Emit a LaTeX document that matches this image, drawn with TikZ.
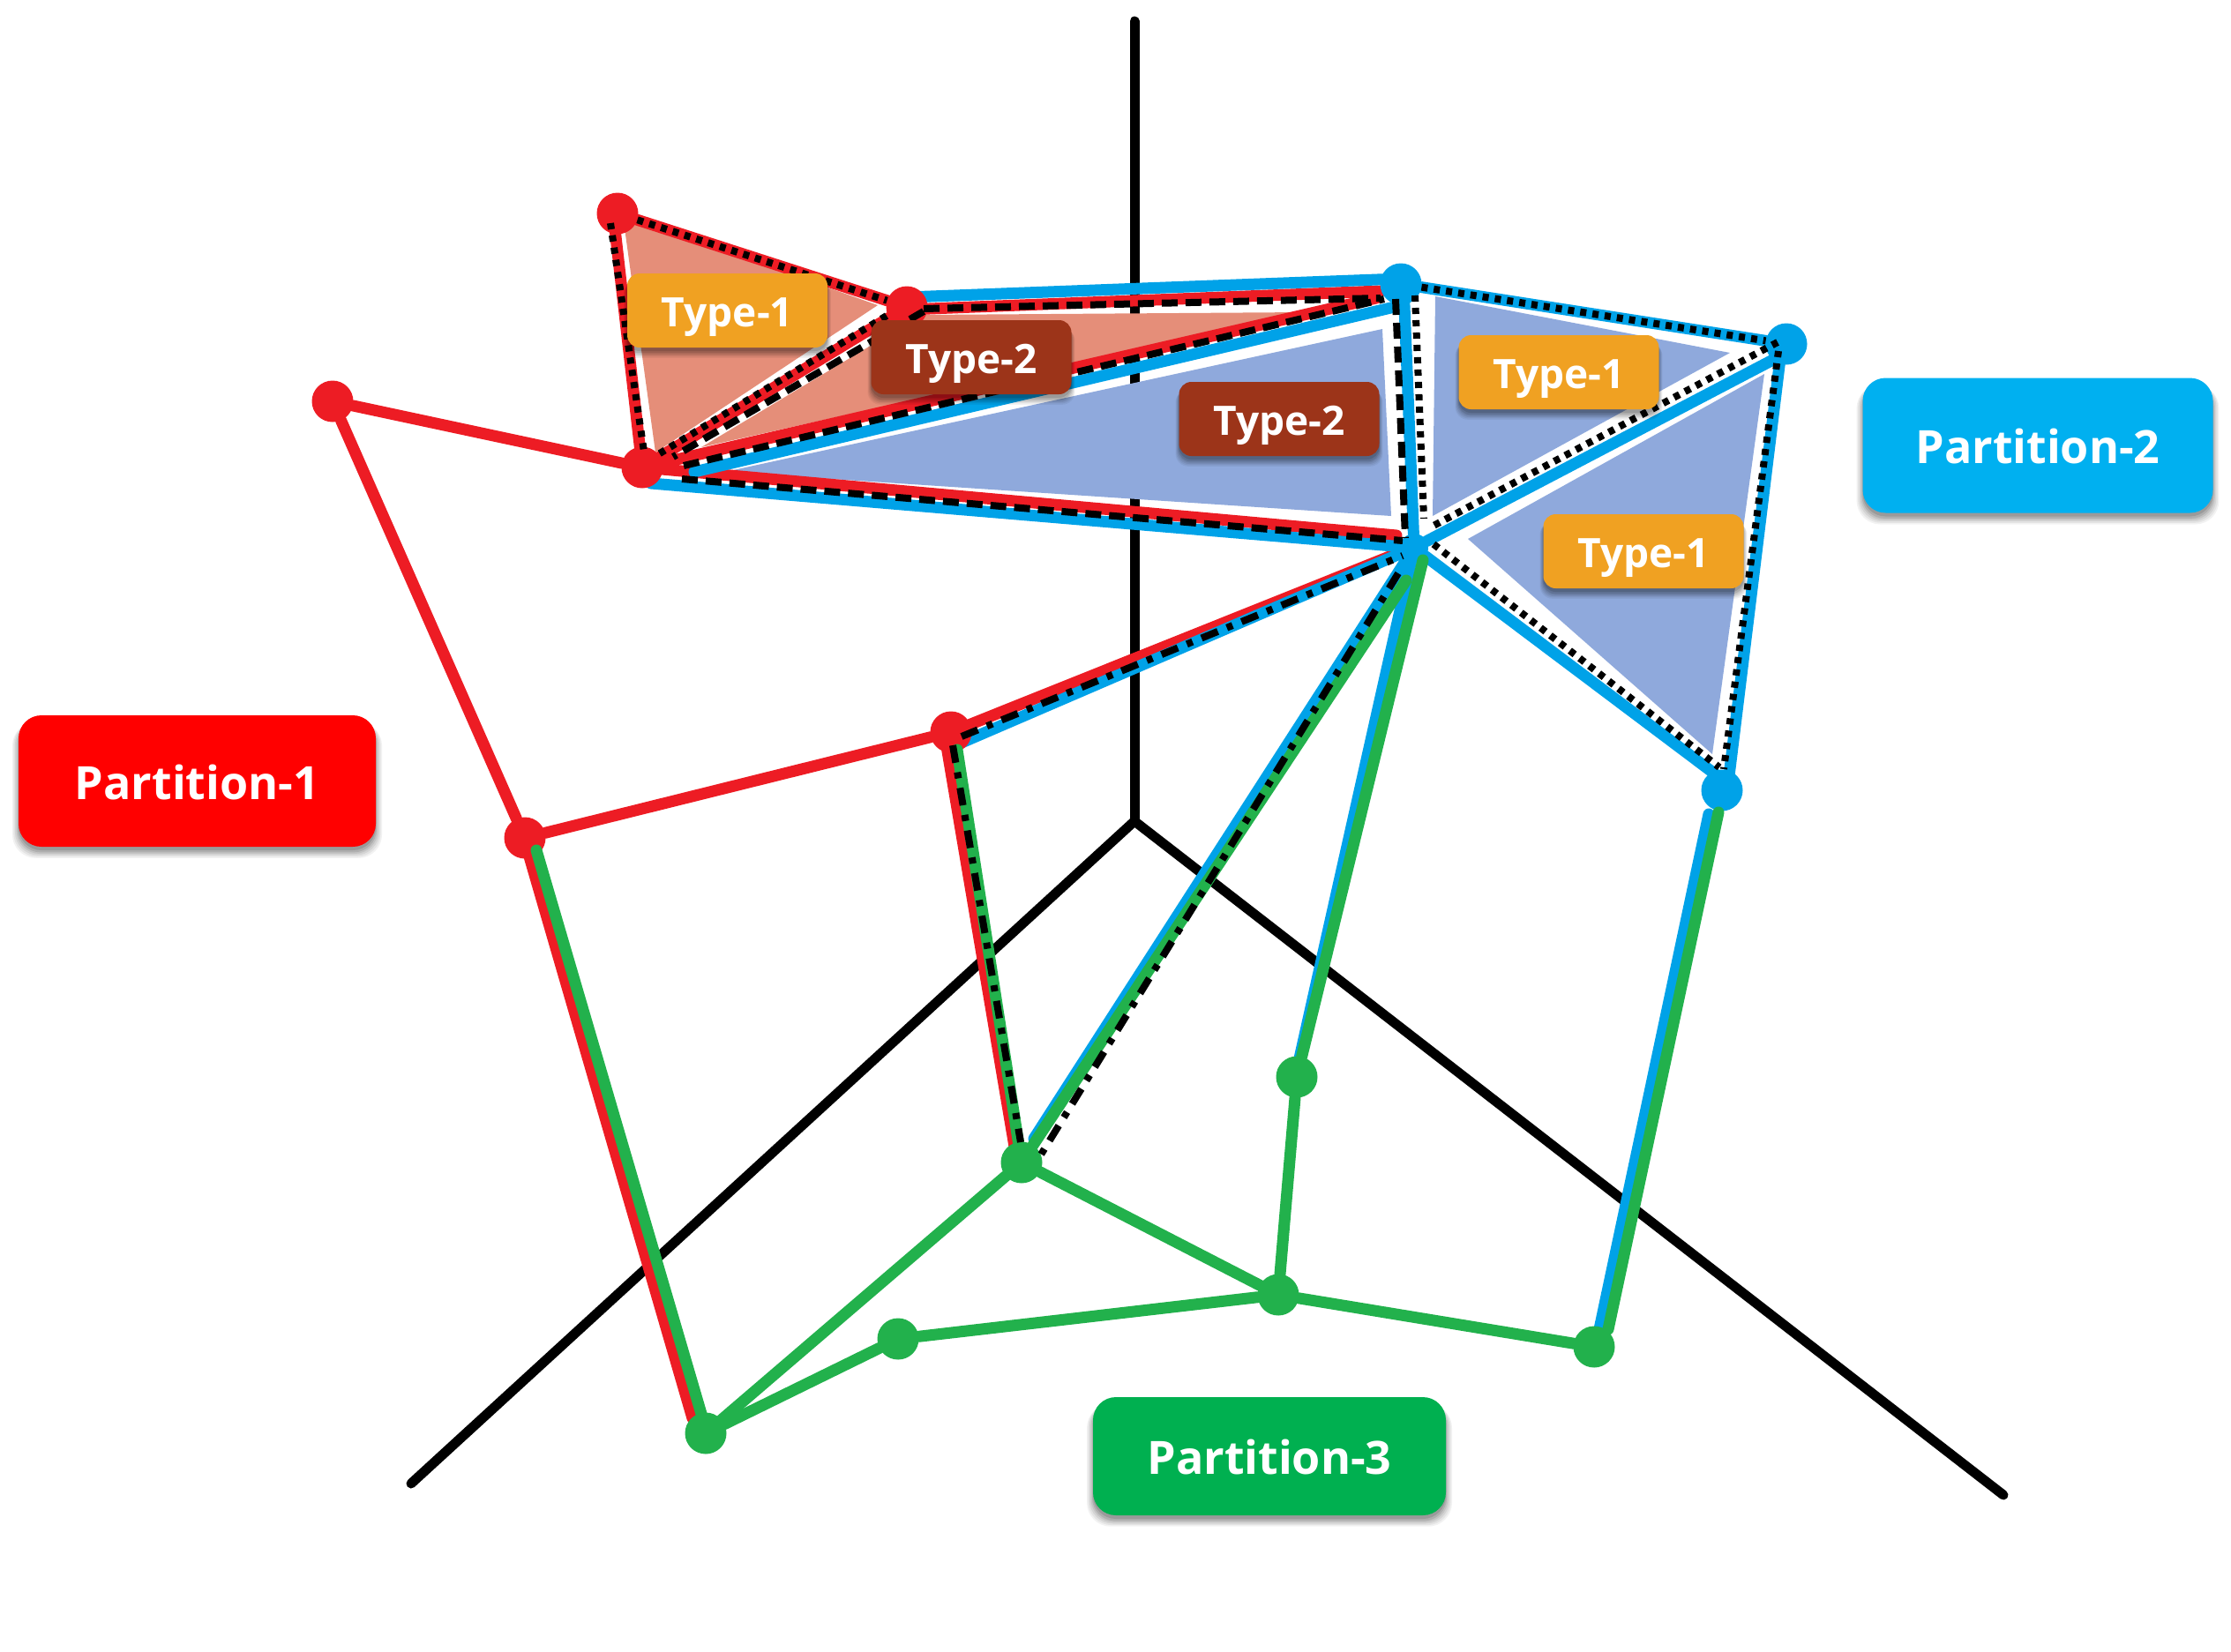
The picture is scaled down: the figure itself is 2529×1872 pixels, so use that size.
\documentclass[tikz,border=0pt]{standalone}
\usepackage{fontspec}
\setmainfont{Open Sans}
\usetikzlibrary{calc,shadows}
\definecolor{redpen}{HTML}{ED1C24}
\definecolor{bluepen}{HTML}{00A2E8}
\definecolor{greenpen}{HTML}{22B14C}
\definecolor{salmonfill}{HTML}{E58E79}
\definecolor{bluefill}{HTML}{8FA9DC}
\definecolor{typeone}{HTML}{F0A122}
\definecolor{typetwo}{HTML}{9C3419}
\definecolor{parttwo}{HTML}{00B0F0}
\definecolor{partthree}{HTML}{00B050}
\pgfdeclarelayer{under}
\pgfsetlayers{under,main}
\tikzset{
  softshadow/.style={
    general shadow={shadow yshift=-10pt,shadow scale=1.035,fill=black,opacity=.05},
    general shadow={shadow yshift=-9pt,shadow scale=1.028,fill=black,opacity=.06},
    general shadow={shadow yshift=-8pt,shadow scale=1.02,fill=black,opacity=.07},
    general shadow={shadow yshift=-7pt,shadow scale=1.012,fill=black,opacity=.08},
    general shadow={shadow yshift=-6pt,shadow scale=1.005,fill=black,opacity=.10},
    general shadow={shadow yshift=-4pt,fill=black,opacity=.12}},
  partbox/.style={rounded corners=26pt,text=white,font=\fontsize{52}{64}\selectfont\bfseries,
    inner sep=0pt,text height=41pt,text depth=0pt,softshadow},
  typebox/.style={rounded corners=14pt,text=white,font=\fontsize{46}{56}\selectfont\bfseries,
    minimum width=227pt,minimum height=84pt,inner sep=0pt,text height=36pt,text depth=0pt,softshadow},
  dot/.style={circle,inner sep=0pt,minimum size=47pt},
  pen/.style={line width=13pt,line cap=round},
  dottedpen/.style={black,line width=8pt,dash pattern=on 7pt off 7pt},
  dashedpen/.style={black,line width=8pt,dash pattern=on 18pt off 9pt},
  dotdashpen/.style={black,line width=8pt,dash pattern=on 20pt off 11pt on 7pt off 11pt}
}
\begin{document}
\begin{tikzpicture}[x=1pt, y=-1pt]
    \useasboundingbox (0,0) rectangle (2529,1872);
    % Vertices
    \foreach \n/\x/\y in {r1/700/242, r2/1028/348, r3/728/530, r4/377/455, r5/595/950, r6/1078/830}
        \node[dot,fill=redpen] (\n) at (\x,\y) {};
    \foreach \n/\x/\y in {b1/1588/322, b2/2025/390, b4/1952/896}
        \node[dot,fill=bluepen] (\n) at (\x,\y) {};
    \node[dot,fill=bluepen,minimum size=32pt] (b3) at (1603,621) {};
    \foreach \n/\x/\y in {g1/1158/1318, g2/1470/1221, g3/1449/1468, g4/1807/1527, g5/1018/1518, g6/800/1625}
        \node[dot,fill=greenpen] (\n) at (\x,\y) {};
    \begin{pgfonlayer}{under}
    % Axes
    \coordinate (origin) at (1286,931);
    \coordinate (axisup) at (1286,24);
    \coordinate (axisleft) at (466,1682);
    \coordinate (axisright) at (2271,1695);
    \draw[line width=11pt,line cap=round] (axisup) -- (origin);
    \draw[line width=11pt,line cap=round] (axisleft) -- (origin) -- (axisright);
    % Triangles
    \fill[salmonfill] (706,244) -- (995,346) -- (743,513) -- cycle;
    \fill[salmonfill] (795,507) -- (1045,357) -- (1480,354) -- cycle;
    \fill[bluefill] (822,535) -- (1567,373) -- (1577,585) -- cycle;
    \fill[bluefill] (1627,336) -- (1961,400) -- (1624,585) -- cycle;
    \fill[bluefill] (2000,424) -- (1664,611) -- (1941,855) -- cycle;
    % Red edges
    \foreach \a/\b in {r4/r3, r4/r5, r5/r6, r1/r2, r2/r3}
        \draw[pen,redpen] (\a) -- (\b);
    \draw[pen,redpen] ($(r1)+(-5,0)$) -- (r3);
    \draw[pen,redpen] ($(r2)+(0,3)$) -- ($(b1)+(-23,8)$);
    \draw[pen,redpen] (r3) -- ($(b1)+(-28,16)$);
    \draw[pen,redpen] (r3) -- ($(b3)+(-20,-14)$);
    \draw[pen,redpen] (r6) -- ($(b3)+(-18,6)$);
    \draw[pen,redpen] ($(r6)+(-6,10)$) -- ($(g1)+(-8,-18)$);
    \draw[pen,redpen] ($(r5)+(5,21)$) -- ($(g6)+(-15,-17)$);
    % Blue edges
    \draw[pen,bluepen] ($(r2)+(0,-11)$) -- ($(b1)+(0,-6)$);
    \draw[pen,bluepen] ($(r3)+(59,5)$) -- ($(b1)+(-3,25)$);
    \draw[pen,bluepen] ($(r3)+(10,18)$) -- (b3);
    \draw[pen,bluepen] ($(r6)+(12,12)$) -- (b3);
    \draw[pen,bluepen] ($(b1)+(3,0)$) -- (b3);
    \draw[pen,bluepen] (b1) -- (b2);
    \draw[pen,bluepen] (b3) -- ($(b2)+(0,10)$);
    \draw[pen,bluepen] (b3) -- ($(b4)+(-2,-14)$);
    \draw[pen,bluepen] ($(b2)+(-5,0)$) -- ($(b4)+(6,0)$);
    \draw[pen,bluepen] (b3) -- ($(g1)+(14,-27)$);
    \draw[pen,bluepen] (b3) -- ($(g2)+(3,-21)$);
    \draw[pen,bluepen] ($(b4)+(-15,27)$) -- ($(g4)+(6,-20)$);
    % Green edges
    \foreach \a/\b in {g6/g1, g6/g5, g5/g3, g1/g3, g2/g3, g3/g4}
        \draw[pen,greenpen] (\a) -- (\b);
    \end{pgfonlayer}
    \draw[pen,greenpen] ($(b3)+(-9,37)$) -- (g1);
    \draw[pen,greenpen] ($(b3)+(10,14)$) -- (g2);
    \draw[pen,greenpen] ($(b4)+(-4,25)$) -- ($(g4)+(16,-20)$);
    \draw[pen,greenpen] ($(r5)+(13,14)$) -- ($(g6)+(-5,-22)$);
    \draw[pen,greenpen] ($(r6)+(7,20)$) -- (g1);
    % Dotted
    \draw[dottedpen] (r1) -- (r2);
    \draw[dottedpen] ($(r1)+(-8,11)$) -- ($(r3)+(2,-18)$);
    \draw[dottedpen] ($(r2)+(-23,10)$) -- ($(r3)+(15,-13)$);
    \draw[dottedpen] ($(b1)+(16,13)$) -- ($(b3)+(11,-33)$);
    \draw[dottedpen] (b1) -- (b2);
    \draw[dottedpen] ($(b2)+(-10,-2)$) -- ($(b3)+(22,-25)$);
    \draw[dottedpen] ($(b3)+(22,-4)$) -- ($(b4)+(-3,-26)$);
    \draw[dottedpen] ($(b2)+(-9,8)$) -- ($(b4)+(2,-24)$);
    % Dashed
    \draw[dashedpen] ($(r2)+(19,5)$) -- ($(r3)+(35,-12)$);
    \draw[dashedpen] ($(r2)+(19,2)$) -- ($(b1)+(-23,16)$);
    \draw[dashedpen] ($(r3)+(47,-2)$) -- ($(b1)+(-19,17)$);
    \draw[dashedpen] ($(r3)+(45,13)$) -- ($(b3)+(-13,-8)$);
    \draw[dashedpen] ($(b1)+(-6,17)$) -- ($(b3)+(-10,-11)$);
    % Dash dot
    \draw[dotdashpen] ($(r6)+(12,5)$) -- ($(b3)+(-13,9)$);
    \draw[dotdashpen] ($(r6)+(2,15)$) -- ($(g1)+(-1,-23)$);
    \draw[dotdashpen] ($(b3)+(-18,29)$) -- ($(g1)+(22,-9)$);
    % Labels
    \node[typebox,fill=typeone] (t1a) at (824.5,352) {Type-1};
    \node[typebox,fill=typetwo] (t2a) at (1101,405) {Type-2};
    \node[typebox,fill=typetwo] (t2b) at (1450,475) {Type-2};
    \node[typebox,fill=typeone] (t1b) at (1767,422) {Type-1};
    \node[typebox,fill=typeone] (t1c) at (1863,625) {Type-1};
    \node[partbox,fill=red,minimum width=405pt,minimum height=149pt] (part1) at (223.5,885.5) {Partition-1};
    \node[partbox,fill=parttwo,minimum width=397pt,minimum height=153pt] (part2) at (2310,505) {Partition-2};
    \node[partbox,fill=partthree,minimum width=400pt,minimum height=134pt] (part3) at (1439,1651) {Partition-3};
\end{tikzpicture}
\end{document}
